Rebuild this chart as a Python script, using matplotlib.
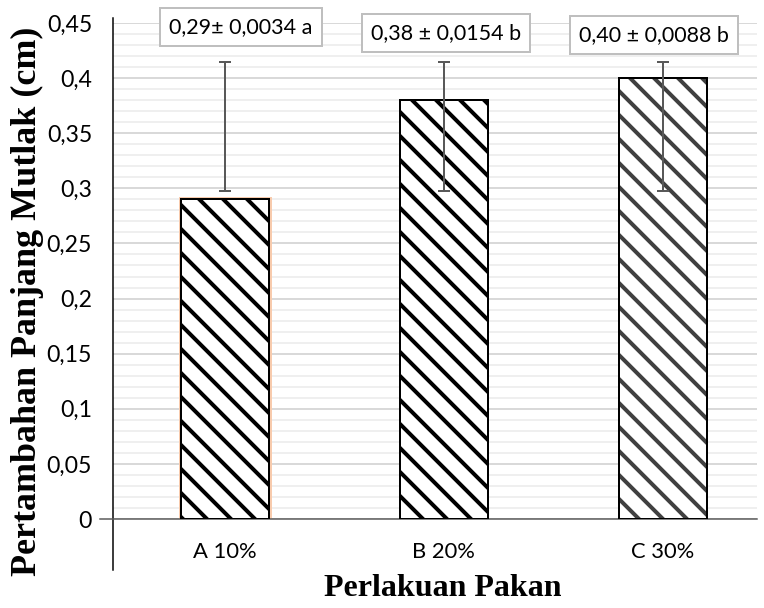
import matplotlib.pyplot as plt
import numpy as np

categories = ['A 10%', 'B 20%', 'C 30%']
values = [0.29, 0.38, 0.40]
err_bottom = [0.298, 0.298, 0.298]
err_top = [0.415, 0.415, 0.415]
notes = ['0,29\u00b1 0,0034 a', '0,38 \u00b1 0,0154 b', '0,40 \u00b1 0,0088 b']
hatch_colors = ['black', 'black', '#404040']

plt.rcParams['hatch.linewidth'] = 4
sans = 'Lato'
serif = 'Liberation Serif'

# dpi 72 so that the hatch spacing is about 12 px and points == pixels
fig = plt.figure(figsize=(764 / 72, 608 / 72), dpi=72)
ax = fig.add_axes([113 / 764, 89 / 608, 644 / 764, 496 / 608])

x = np.arange(len(categories))
width = 0.40

# faint orange glow around the first bar
ax.bar(x[0], values[0], width, color='none', edgecolor='#f8cbad', linewidth=5, zorder=2)
for i in range(len(x)):
    ax.bar(x[i], values[i], width, color='white', edgecolor=hatch_colors[i],
           hatch='\\', linewidth=0, zorder=3)
ax.bar(x, values, width, color='none', edgecolor='black', linewidth=2, zorder=4)

err_bottom = np.array(err_bottom)
err_top = np.array(err_top)
ax.errorbar(x, err_bottom, yerr=[np.zeros(len(x)), err_top - err_bottom],
            fmt='none', ecolor='#595959', elinewidth=2, capsize=6, capthick=2, zorder=5)

# annotation boxes
note_x = [0.073, 1.009, 1.959]
note_y = [0.4464, 0.441, 0.439]
for nx, ny, t in zip(note_x, note_y, notes):
    ax.text(nx, ny, t, ha='center', va='center', fontsize=21.5, family=sans, zorder=6,
            bbox=dict(boxstyle='square,pad=0.42', facecolor='white', edgecolor='#bfbfbf', linewidth=2),
            clip_on=False)

ax.set_ylim(0, 0.45)
ax.set_xlim(-0.511, 2.43)
ax.set_yticks(np.arange(0, 0.451, 0.05))
ax.set_yticklabels(['0', '0,05', '0,1', '0,15', '0,2', '0,25', '0,3', '0,35', '0,4', '0,45'],
                   family=sans, fontsize=23)
ax.set_yticks(np.arange(0, 0.451, 0.01), minor=True)
ax.set_xticks(x)
ax.set_xticklabels(categories, family=sans, fontsize=22)
ax.tick_params(axis='y', which='both', length=0, pad=21)
ax.tick_params(axis='x', length=0, pad=23)

ax.grid(axis='y', which='major', color='#d9d9d9', linewidth=2, zorder=0)
ax.grid(axis='y', which='minor', color='#efefef', linewidth=2, zorder=0)
ax.set_axisbelow(True)

for s in ax.spines.values():
    s.set_visible(False)
# left axis line extends above and below the plot area
ax.plot([0, 0], [-0.103, 1.01], transform=ax.transAxes, color='black', linewidth=1.5, clip_on=False)
ax.plot([-0.02, 1], [0, 0], transform=ax.transAxes, color='#595959', linewidth=1.5, clip_on=False)

fig.text(27 / 764, 1 - 301 / 608, 'Pertambahan Panjang Mutlak (cm)', rotation=90,
         ha='center', va='center', family=serif, fontweight='bold', fontsize=36)
fig.text(443 / 764, 1 - 588 / 608, 'Perlakuan Pakan', ha='center', va='center',
         family=serif, fontweight='bold', fontsize=32)

fig.savefig('out.png', dpi=72)
